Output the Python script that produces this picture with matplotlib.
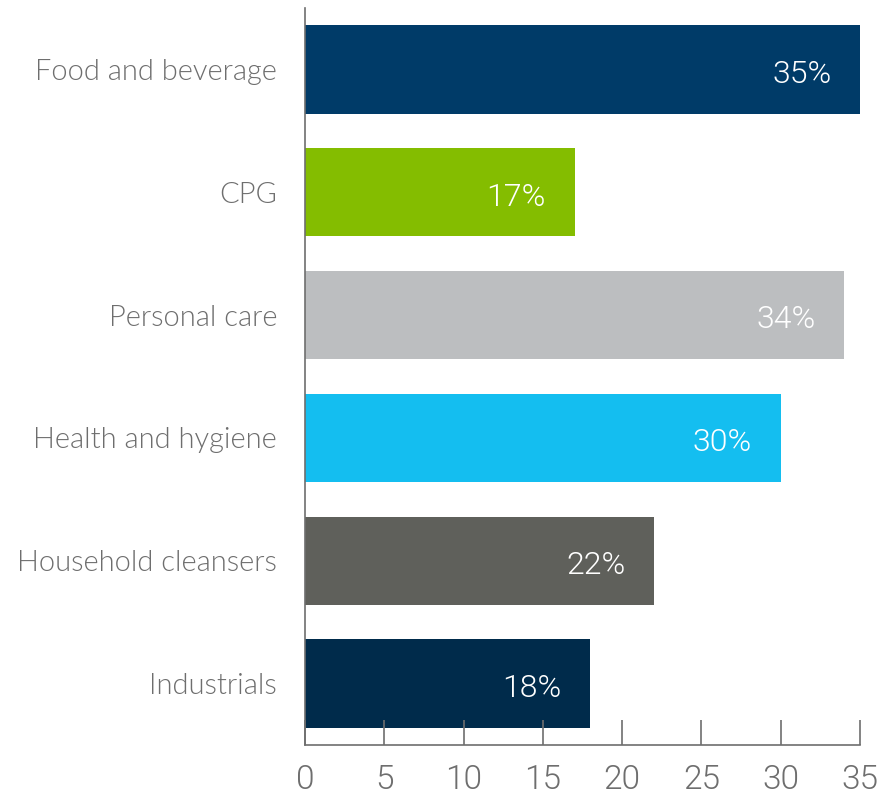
import matplotlib
matplotlib.use("Agg")
import matplotlib.pyplot as plt
from matplotlib import font_manager

categories = [
    "Food and beverage",
    "CPG",
    "Personal care",
    "Health and hygiene",
    "Household cleansers",
    "Industrials",
]
values = [35, 17, 34, 30, 22, 18]
bar_colors = ["#003B68", "#84BD00", "#BCBEC0", "#14BEF0", "#5F605B", "#002B4B"]
x_ticks = [0, 5, 10, 15, 20, 25, 30, 35]

GRAY = "#6E6E6E"


def find_font(family, style_word, size):
    # pick the exact font file by its style name, weight matching picks hairline/thin
    for f in font_manager.fontManager.ttflist:
        stem = f.fname.rsplit("/", 1)[-1].lower()
        if f.name == family and style_word in stem and "italic" not in stem:
            return font_manager.FontProperties(fname=f.fname, size=size)
    return font_manager.FontProperties(family=family, weight="light", size=size)


label_font = find_font("Lato", "-light.", 21)
value_font = find_font("Roboto", "-light.", 23)
tick_font = find_font("Roboto", "-light.", 24)

fig = plt.figure(figsize=(8.96, 7.97), dpi=100)
ax = fig.add_axes([305 / 896, 52 / 797, 555 / 896, 737 / 797])

positions = list(range(len(categories)))
ax.barh(positions, values, height=0.72, color=bar_colors)

for pos, val in zip(positions, values):
    ax.text(val - 1.8, pos + 0.04, f"{val}%", ha="right", va="center",
            color="white", fontproperties=value_font)

ax.set_ylim(5.5, -0.5)
ax.set_xlim(0, 35)
ax.set_yticks(positions)
ax.set_yticklabels(categories, fontproperties=label_font, color=GRAY)
ax.set_xticks(x_ticks)
ax.set_xticklabels([str(t) for t in x_ticks], fontproperties=tick_font,
                   color=GRAY)

ax.tick_params(axis="y", length=0, pad=20)
ax.tick_params(axis="x", direction="in", length=18, width=1.2,
               color=GRAY, pad=14)

for side in ("top", "right"):
    ax.spines[side].set_visible(False)
for side in ("left", "bottom"):
    ax.spines[side].set_color(GRAY)
    ax.spines[side].set_linewidth(1.2)

fig.savefig("out.png", dpi=100)
